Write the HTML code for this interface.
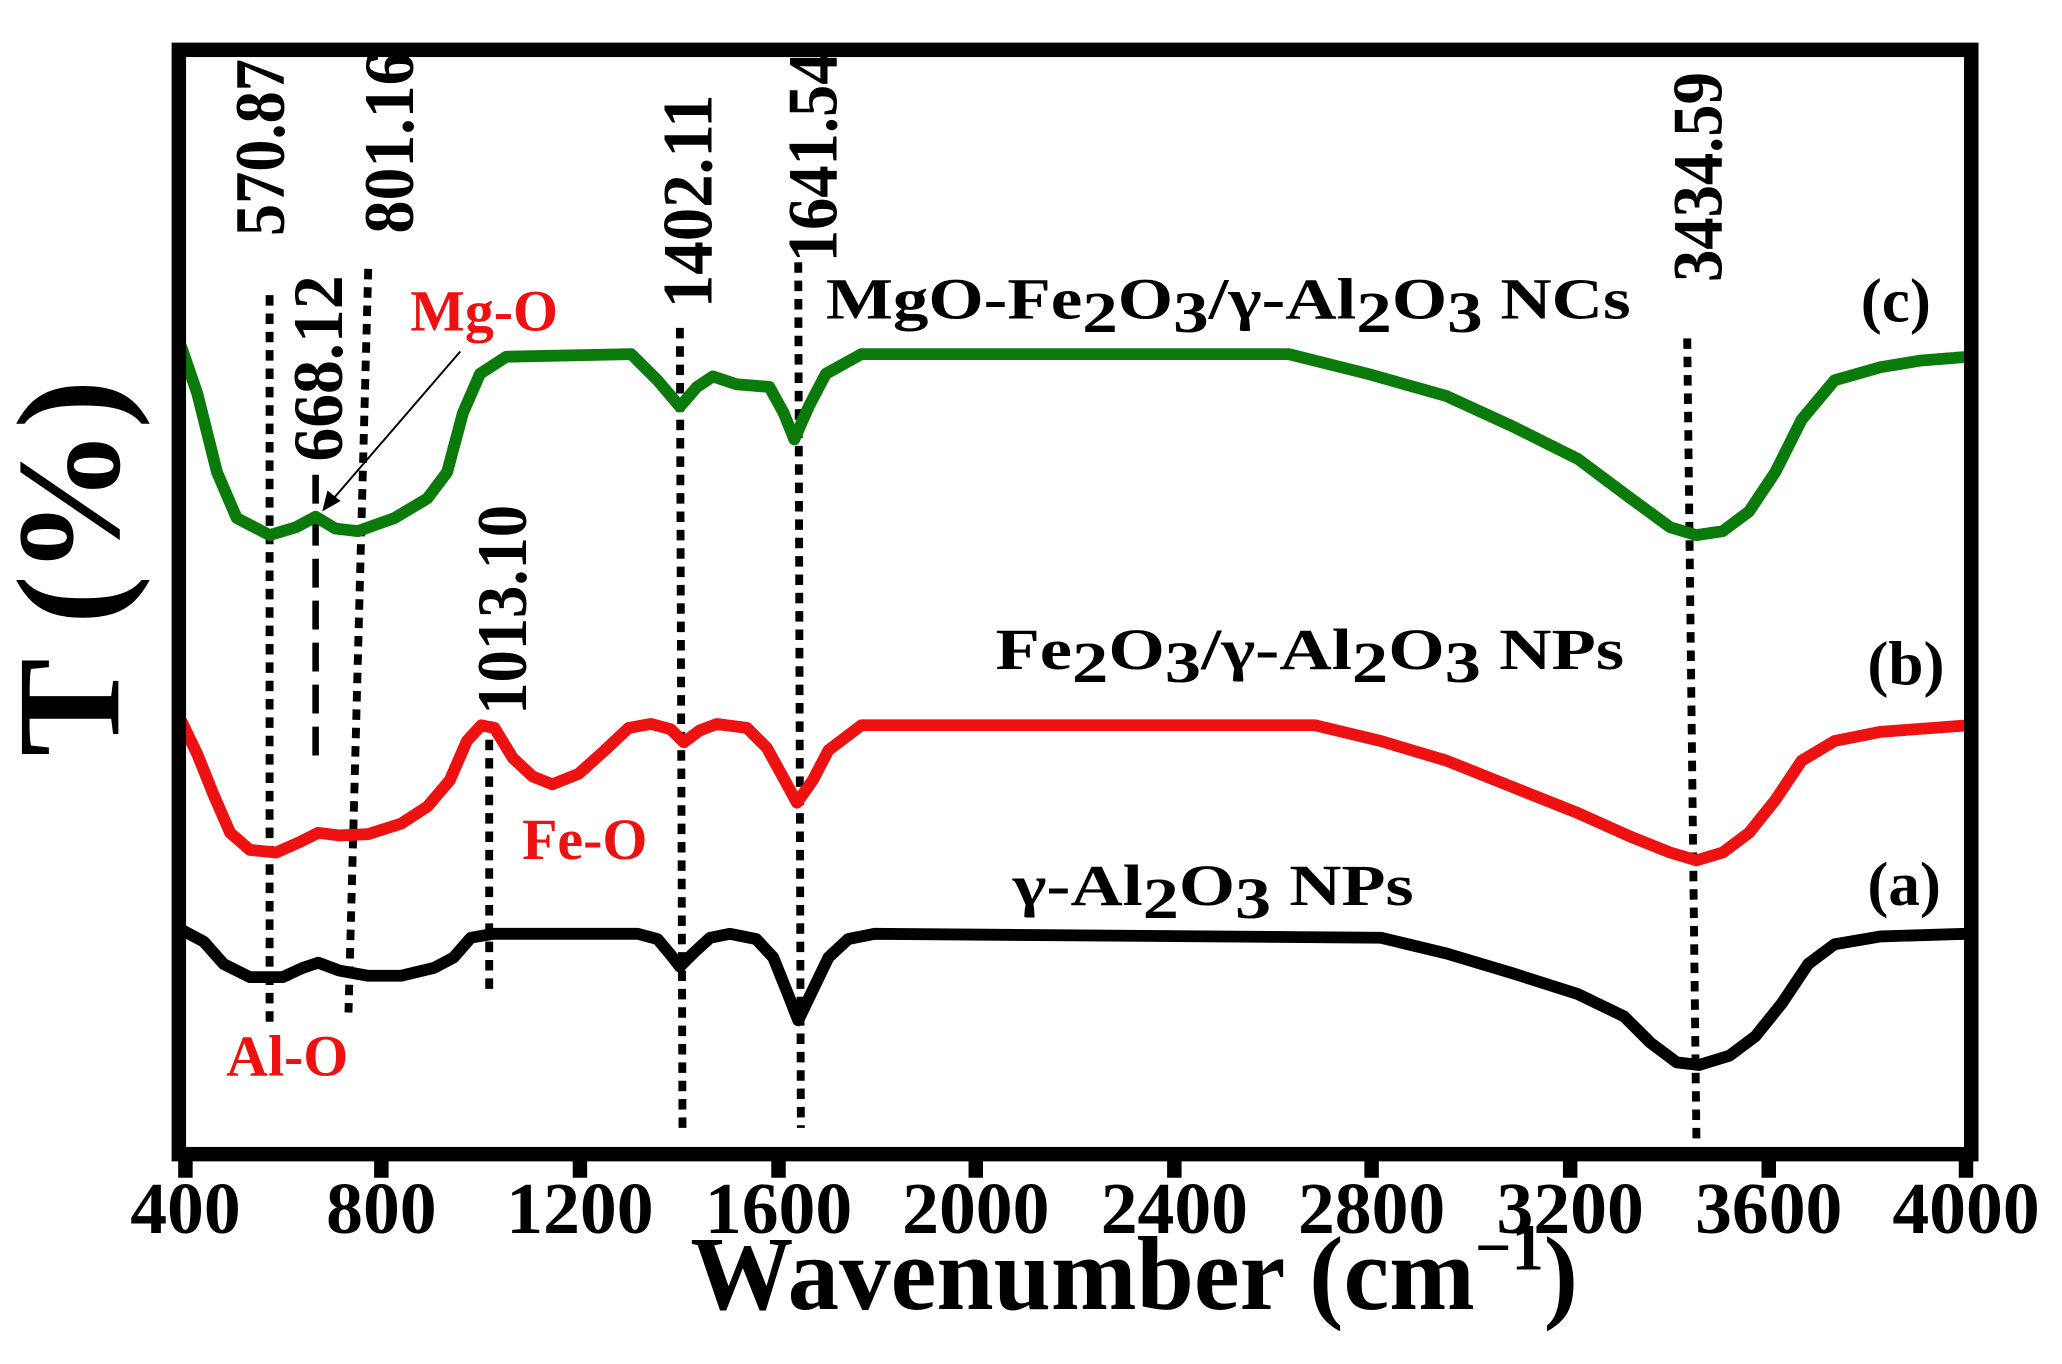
<!DOCTYPE html>
<html><head><meta charset="utf-8"><style>
html,body{margin:0;padding:0;background:#fff;}
svg{display:block;}
text{font-family:"Liberation Serif",serif;font-weight:bold;}
</style></head><body>
<svg width="2062" height="1364" viewBox="0 0 1568 1040" preserveAspectRatio="none" xmlns="http://www.w3.org/2000/svg">
<rect x="0" y="0" width="1568" height="1040" fill="#fff"/>
<g stroke="#000" stroke-width="6" stroke-dasharray="8,6" fill="none">
<line x1="205" y1="225" x2="205" y2="785"/>
<line x1="280" y1="205" x2="265" y2="772"/>
<line x1="372" y1="550" x2="372" y2="760"/>
<line x1="517" y1="250" x2="519" y2="865"/>
<line x1="607" y1="200" x2="609" y2="860"/>
<line x1="1283" y1="258" x2="1290" y2="868"/>
</g>
<line x1="240" y1="362" x2="240" y2="578" stroke="#000" stroke-width="5" stroke-dasharray="22,10"/>
<g fill="none" stroke-width="9" stroke-linejoin="round" stroke-linecap="round">
<polyline stroke="#0a7a0a" points="138,265 150,300 165,360 180,395 205,408 225,402 240,394 255,403 272,405 300,395 325,380 340,360 352,315 365,285 385,272 480,270 500,290 517,310 530,295 542,287 560,293 585,295 596,315 604,335 615,310 628,285 655,270 980,270 1040,285 1100,302 1150,325 1200,350 1240,380 1270,402 1290,408 1310,405 1330,390 1350,360 1370,320 1395,290 1430,280 1460,275 1497,272"/>
<polyline stroke="#ee1111" points="138,550 150,575 162,605 175,635 190,648 210,650 228,642 242,635 258,637 280,636 305,628 325,615 342,595 355,565 366,553 376,555 390,578 405,592 420,598 440,590 460,572 478,555 495,552 510,556 520,566 532,557 545,552 568,555 583,570 594,590 606,612 618,595 630,572 655,553 1000,553 1050,565 1100,580 1150,600 1200,620 1240,638 1270,650 1290,656 1310,650 1330,635 1350,610 1370,580 1395,565 1430,558 1497,553"/>
<polyline stroke="#000" points="140,710 155,718 170,735 190,745 215,745 230,738 242,734 258,740 280,744 305,744 330,738 345,730 358,715 375,712 485,712 500,716 510,728 517,737 528,726 540,715 555,712 575,716 588,730 598,755 607,778 618,755 630,730 645,716 665,712 1050,715 1100,727 1150,742 1200,758 1235,775 1255,795 1275,810 1292,812 1315,805 1335,790 1355,765 1375,735 1395,720 1430,714 1495,712"/>
</g>
<line x1="350" y1="268" x2="252" y2="382" stroke="#000" stroke-width="1.5"/>
<polygon points="245,390 249,374 259,382" fill="#000"/>
<rect x="136" y="38" width="1363" height="842" fill="none" stroke="#000" stroke-width="11"/>
<g stroke="#000" stroke-width="11">
<line x1="141" y1="880" x2="141" y2="898"/><line x1="290" y1="880" x2="290" y2="898"/>
<line x1="441" y1="880" x2="441" y2="898"/><line x1="592" y1="880" x2="592" y2="898"/>
<line x1="742" y1="880" x2="742" y2="898"/><line x1="893" y1="880" x2="893" y2="898"/>
<line x1="1043" y1="880" x2="1043" y2="898"/><line x1="1194" y1="880" x2="1194" y2="898"/>
<line x1="1345" y1="880" x2="1345" y2="898"/><line x1="1495" y1="880" x2="1495" y2="898"/>
</g>
<g font-size="56" text-anchor="middle">
<text x="141" y="940">400</text><text x="290" y="940">800</text>
<text x="441" y="940">1200</text><text x="592" y="940">1600</text>
<text x="742" y="940">2000</text><text x="893" y="940">2400</text>
<text x="1043" y="940">2800</text><text x="1194" y="940">3200</text>
<text x="1345" y="940">3600</text><text x="1495" y="940">4000</text>
</g>
<text x="525" y="998" font-size="80" textLength="675" lengthAdjust="spacingAndGlyphs">Wavenumber (cm<tspan dy="-30" font-size="50">−1</tspan><tspan dy="30">)</tspan></text>
<text transform="translate(90,433) rotate(-90)" font-size="112" text-anchor="middle">T (%)</text>
<g font-size="54">
<text transform="translate(216,180) rotate(-90)" textLength="135" lengthAdjust="spacingAndGlyphs">570.87</text>
<text transform="translate(314,178) rotate(-90)" textLength="138" lengthAdjust="spacingAndGlyphs">801.16</text>
<text transform="translate(260,352) rotate(-90)" textLength="142" lengthAdjust="spacingAndGlyphs">668.12</text>
<text transform="translate(400,545) rotate(-90)" textLength="160" lengthAdjust="spacingAndGlyphs">1013.10</text>
<text transform="translate(541,235) rotate(-90)" textLength="163" lengthAdjust="spacingAndGlyphs">1402.11</text>
<text transform="translate(636,200) rotate(-90)" textLength="160" lengthAdjust="spacingAndGlyphs">1641.54</text>
<text transform="translate(1309,215) rotate(-90)" textLength="160" lengthAdjust="spacingAndGlyphs">3434.59</text>
</g>
<g font-size="44">
<text x="628" y="243" textLength="612" lengthAdjust="spacingAndGlyphs">MgO-Fe<tspan dy="10">2</tspan><tspan dy="-10">O</tspan><tspan dy="10">3</tspan><tspan dy="-10">/γ-Al</tspan><tspan dy="10">2</tspan><tspan dy="-10">O</tspan><tspan dy="10">3</tspan><tspan dy="-10">  NCs</tspan></text>
<text x="757" y="510" textLength="478" lengthAdjust="spacingAndGlyphs">Fe<tspan dy="10">2</tspan><tspan dy="-10">O</tspan><tspan dy="10">3</tspan><tspan dy="-10">/γ-Al</tspan><tspan dy="10">2</tspan><tspan dy="-10">O</tspan><tspan dy="10">3</tspan><tspan dy="-10">  NPs</tspan></text>
<text x="770" y="690" textLength="305" lengthAdjust="spacingAndGlyphs">γ-Al<tspan dy="10">2</tspan><tspan dy="-10">O</tspan><tspan dy="10">3</tspan><tspan dy="-10"> NPs</tspan></text>
<text x="1415" y="245" font-size="48">(c)</text>
<text x="1420" y="522" font-size="48">(b)</text>
<text x="1420" y="690" font-size="48">(a)</text>
</g>
<g font-size="44" fill="#ee1111">
<text x="312" y="252">Mg-O</text>
<text x="397" y="655">Fe-O</text>
<text x="172" y="820">Al-O</text>
</g>
</svg>
</body></html>
